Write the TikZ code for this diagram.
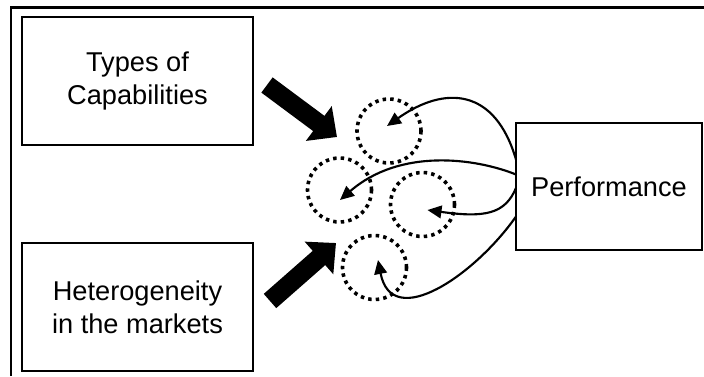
\documentclass[tikz,border=0pt]{standalone}
\usepackage{fontspec}
\setmainfont{Liberation Sans}
\usetikzlibrary{arrows.meta,calc}

\tikzset{every picture/.style={line width=0.75pt}}
\tikzset{
  box/.style={draw, line width=1.2pt, inner sep=0pt, outer sep=0pt, align=center,
    font=\fontsize{20.4}{24.8}\selectfont},
  ring/.style={draw, circle, minimum size=48pt, inner sep=0pt, line width=2.7pt,
    dash pattern=on 2.6pt off 3.1pt},
  flow/.style={line width=1.6pt, -{Triangle[length=10.5pt,width=9.5pt]}},
  bigarrow/.style={line width=14.2pt, -{Triangle[length=17pt 0,width=31.5pt 0]}}
}

\begin{document}
\begin{tikzpicture}[x=0.75pt,y=0.75pt,yscale=-1]
\useasboundingbox (0,0) rectangle (704,376);

%Frame
\draw [line width=1.6pt] (11,376) -- (11,7.5) -- (704,7.5) ;

% Boxes
\node [box, minimum width=173pt, minimum height=96pt] (types) at (137.5,81) {Types of\\Capabilities};
\node [box, minimum width=173pt, minimum height=96pt] (hetero) at (137.5,307) {Heterogeneity\\in the markets};
\node [box, line width=1.5pt, minimum width=139.5pt, minimum height=95pt] (perf) at (609,186.5) {Performance};

% Dotted circles
\node [ring] (c1) at (389,131) {};
\node [ring] (c2) at (339.5,190) {};
\node [ring] (c3) at (422.5,204.5) {};
\node [ring] (c4) at (374.5,267.5) {};

% Block arrows
\coordinate (capfrom) at (267,85);
\coordinate (capto) at (337,137);
\coordinate (hetfrom) at (270,301);
\coordinate (hetto) at (336,243);
\draw [bigarrow] (capfrom) -- (capto);
\draw [bigarrow] (hetfrom) -- (hetto);

% Feedback arrows
\draw [flow] ($(perf.west)+(0,-27)$) .. controls (495,88) and (445,85) .. ($(c1.center)+(-2,-5)$);
\draw [flow] ($(perf.west)+(0,-12)$) .. controls (475,158) and (400,148) .. ($(c2.center)+(0.5,10)$);
\draw [flow] ($(perf.west)+(0,1.5)$) .. controls (505,214) and (485,218) .. ($(c3.center)+(5,5.5)$);
\draw [flow] ($(perf.west)+(0,30)$) .. controls (475,275) and (392,332) .. ($(c4.center)+(3.5,-7.5)$);

\end{tikzpicture}
\end{document}
